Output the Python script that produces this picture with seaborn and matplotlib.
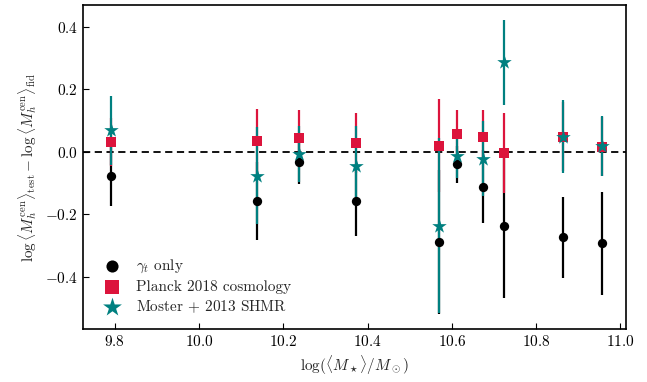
import numpy as np
import pandas as pd
import matplotlib
matplotlib.use("Agg")
import matplotlib.pyplot as plt
import seaborn as sns

# Stellar-mass bins
log_mstar = [9.79, 10.138, 10.237, 10.372, 10.569, 10.611, 10.673, 10.724, 10.864, 10.955]

# gamma_t only
gt_delta = [-0.077, -0.158, -0.034, -0.158, -0.288, -0.040, -0.112, -0.237, -0.274, -0.293]
gt_err = [0.095, 0.125, 0.070, 0.110, 0.230, 0.060, 0.117, 0.232, 0.130, 0.165]

# Planck 2018 cosmology
pl_delta = [0.032, 0.034, 0.045, 0.027, 0.019, 0.056, 0.048, -0.005, 0.048, 0.016]
pl_err = [0.077, 0.104, 0.088, 0.096, 0.149, 0.077, 0.085, 0.128, 0.110, 0.095]

# Moster+ 2013 SHMR
mo_delta = [0.069, -0.077, -0.008, -0.045, -0.237, -0.013, -0.023, 0.286, 0.048, 0.018]
mo_err = [0.110, 0.155, 0.090, 0.128, 0.280, 0.070, 0.120, 0.135, 0.117, 0.095]

sns.set_style("ticks")
plt.rcParams.update({
    "font.family": "serif",
    "font.serif": ["cmr10"],
    "mathtext.fontset": "cm",
    "axes.formatter.use_mathtext": True,
    "font.size": 11,
    "axes.linewidth": 1.2,
    "xtick.direction": "in",
    "ytick.direction": "in",
    "xtick.major.size": 4,
    "ytick.major.size": 4,
    "xtick.color": "black",
    "ytick.color": "black",
    "axes.edgecolor": "black",
})

series = [
    ("$\\gamma_t$ only", gt_delta, gt_err, "black", "o", 45),
    ("Planck 2018 cosmology", pl_delta, pl_err, "#DC143C", "s", 55),
    ("Moster $+$ 2013 SHMR", mo_delta, mo_err, "#008080", "*", 120),
]

fig = plt.figure(figsize=(6.47, 3.82), dpi=100)
ax = fig.add_axes([0.128, 0.139, 0.8395, 0.848])

ax.axhline(0.0, color="black", ls="--", lw=1.3, dashes=(4, 2.5), zorder=1)

# error bars first, markers on top
for label, d, e, c, m, s in series:
    ax.errorbar(log_mstar, d, yerr=e, fmt="none", ecolor=c, elinewidth=1.6, capsize=0, zorder=2)

for label, d, e, c, m, s in series:
    df = pd.DataFrame({"x": log_mstar, "y": d})
    sns.scatterplot(data=df, x="x", y="y", ax=ax, color=c, marker=m, s=s,
                    linewidth=0, label=label, zorder=3)

ax.set_xlim(9.724, 11.013)
ax.set_ylim(-0.567, 0.47)
ax.set_xticks([9.8, 10.0, 10.2, 10.4, 10.6, 10.8, 11.0])
ax.set_yticks([-0.4, -0.2, 0.0, 0.2, 0.4])
ax.set_xlabel("$\\log(\\langle M_\\star\\rangle/M_\\odot)$")
ax.set_ylabel("$\\log\\langle M_h^{\\rm cen}\\rangle_{\\rm test} - \\log\\langle M_h^{\\rm cen}\\rangle_{\\rm fid}$")
ax.legend(loc="lower left", frameon=False, handletextpad=0.6, borderaxespad=0.5,
          labelspacing=0.3, markerscale=1.3)

fig.savefig("out.png", dpi=100)
